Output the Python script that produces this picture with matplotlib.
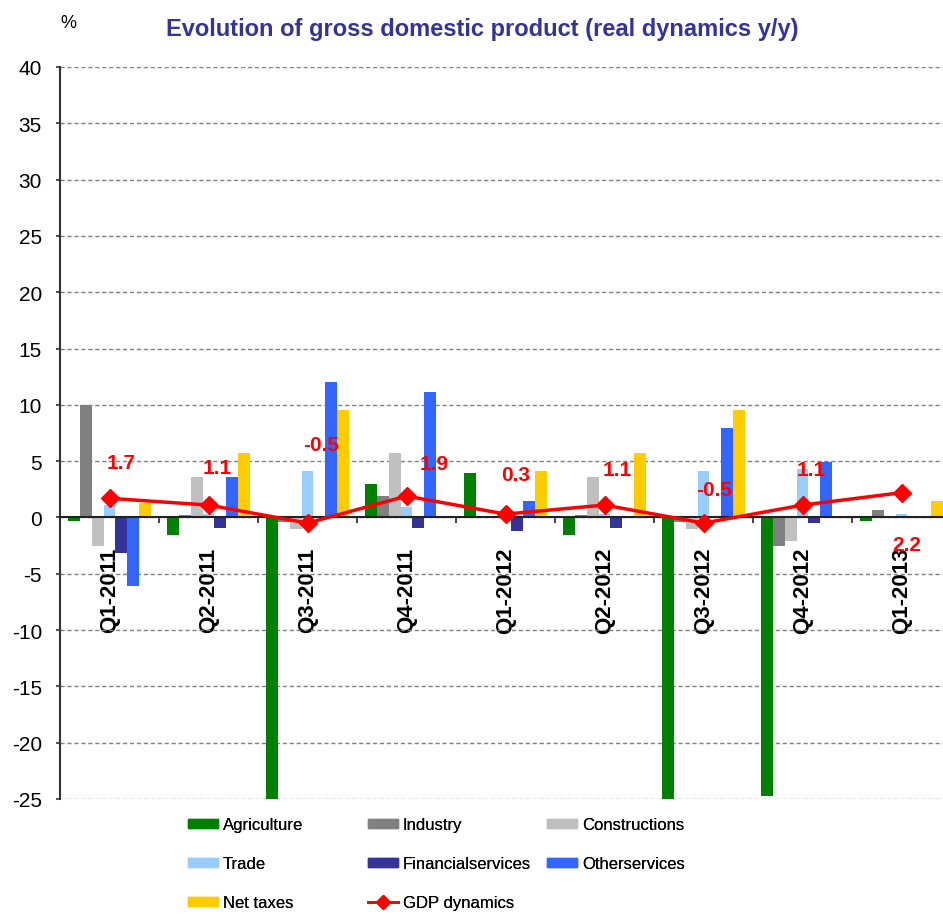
# gdp_evolution.py
# Evolution of gross domestic product, real dynamics y/y, by sector

import numpy as np
import matplotlib.pyplot as plt
from matplotlib import font_manager
from matplotlib.patches import Patch
from matplotlib.lines import Line2D

quarters = ['Q1-2011', 'Q2-2011', 'Q3-2011', 'Q4-2011', 'Q1-2012',
            'Q2-2012', 'Q3-2012', 'Q4-2012', 'Q1-2013']

agriculture = [-0.3, -1.6, -31.0, 3.0, 3.95, -1.6, -31.0, -24.7, -0.3]
industry = [10.0, 0.2, -0.4, 1.95, 0.0, 0.2, -0.4, -2.5, 0.7]
constructions = [-2.5, 3.6, -1.0, 5.7, 0.0, 3.6, -1.0, -2.1, 0.0]
trade = [1.1, 0.3, 4.1, 0.9, 0.0, 0.3, 4.1, 4.3, 0.35]
financial = [-3.2, -0.9, 0.0, -0.9, -1.2, -0.9, 0.0, -0.45, 0.0]
other = [-6.1, 3.6, 12.0, 11.1, 1.45, 0.0, 7.9, 4.9, 0.0]
net_taxes = [1.3, 5.7, 9.5, 0.0, 4.1, 5.7, 9.5, 0.0, 1.45]
gdp = [1.7, 1.1, -0.5, 1.9, 0.3, 1.1, -0.5, 1.1, 2.2]

series = [agriculture, industry, constructions, trade, financial, other, net_taxes]
names = ['Agriculture', 'Industry', 'Constructions', 'Trade',
         'Financialservices', 'Otherservices', 'Net taxes']
colors = ['#008000', '#808080', '#C0C0C0', '#99CCFF', '#333399', '#3366FF', '#FFCC00']

# label offsets from the GDP markers [px]
label_off = [(12, 36), (9, 38), (14, 79), (28, 33), (10, 40),
             (13, 36), (11, 34), (9, 36), (5, -52)]

installed = {f.name for f in font_manager.fontManager.ttflist}
narrow = 'Liberation Sans Narrow' if 'Liberation Sans Narrow' in installed else 'Liberation Sans'
plt.rcParams['font.family'] = [narrow, 'DejaVu Sans']
plt.rcParams['axes.unicode_minus'] = False

fig = plt.figure(figsize=(9.43, 9.2), dpi=100)
# axes runs a bit past the right edge, like the cropped original
ax = fig.add_axes([60 / 943, 120 / 920, 891 / 943, 732 / 920])

x = np.arange(len(quarters)) + 0.5
w = 0.12
for i, (vals, c) in enumerate(zip(series, colors)):
    ax.bar(x + (i - 3) * w, vals, width=w, color=c, zorder=2)

ax.plot(x, gdp, color='#FF0000', lw=2.5, marker='D', ms=9, zorder=4)
for xi, v, (dx, dy) in zip(x, gdp, label_off):
    ax.annotate(f'{v:.1f}', (xi, v), xytext=(dx, dy), textcoords='offset pixels',
                ha='center', va='center', color='#FF0000', fontsize=15,
                fontweight='bold', zorder=5)

ax.set_xlim(0, len(quarters))
ax.set_ylim(-25, 40)
ax.set_yticks(np.arange(-25, 41, 5))
ax.tick_params(axis='y', labelsize=15, length=3, width=1.2, pad=10, color='#333333')
ax.yaxis.grid(True, color='#808080', ls=(0, (3, 2)), lw=1)
ax.set_axisbelow(True)

ax.spines['top'].set_visible(False)
ax.spines['right'].set_visible(False)
ax.spines['left'].set_color('#333333')
ax.spines['left'].set_linewidth(1.5)
ax.spines['bottom'].set_position(('data', 0))
ax.spines['bottom'].set_color('#222222')
ax.spines['bottom'].set_linewidth(1.5)
ax.spines['bottom'].set_zorder(3)

ax.set_xticks(x)
ax.set_xticklabels(quarters, rotation=90, fontsize=16, fontweight='bold', va='top')
ax.set_xticks(np.arange(1, len(quarters)), minor=True)
ax.tick_params(axis='x', which='major', length=0, pad=21)
ax.tick_params(axis='x', which='minor', length=4, width=1.2, color='#222222')

fig.text(0.511, 0.968, 'Evolution of gross domestic product (real dynamics y/y)',
         ha='center', va='center', fontsize=17, fontweight='bold', color='#333399')
fig.text(68 / 943, 1 - 24 / 920, '%', ha='center', va='center', fontsize=13)

handles = [Patch(color=c) for c in colors]
handles.append(Line2D([], [], color='#FF0000', lw=2, marker='D', ms=7))
labels = names + ['GDP dynamics']
cols = [[0, 3, 6], [1, 4, 7], [2, 5]]
col_x = [188, 368, 547]
for cx, idx in zip(col_x, cols):
    leg = fig.legend([handles[k] for k in idx], [labels[k] for k in idx],
                     loc='upper left', bbox_to_anchor=(cx / 943, 1 - 818 / 920),
                     frameon=False, fontsize=12, borderpad=0, borderaxespad=0,
                     handlelength=1.8, handleheight=0.45, handletextpad=0.3,
                     labelspacing=1.45)
    fig.add_artist(leg)

fig.savefig('out.png', dpi=100)
